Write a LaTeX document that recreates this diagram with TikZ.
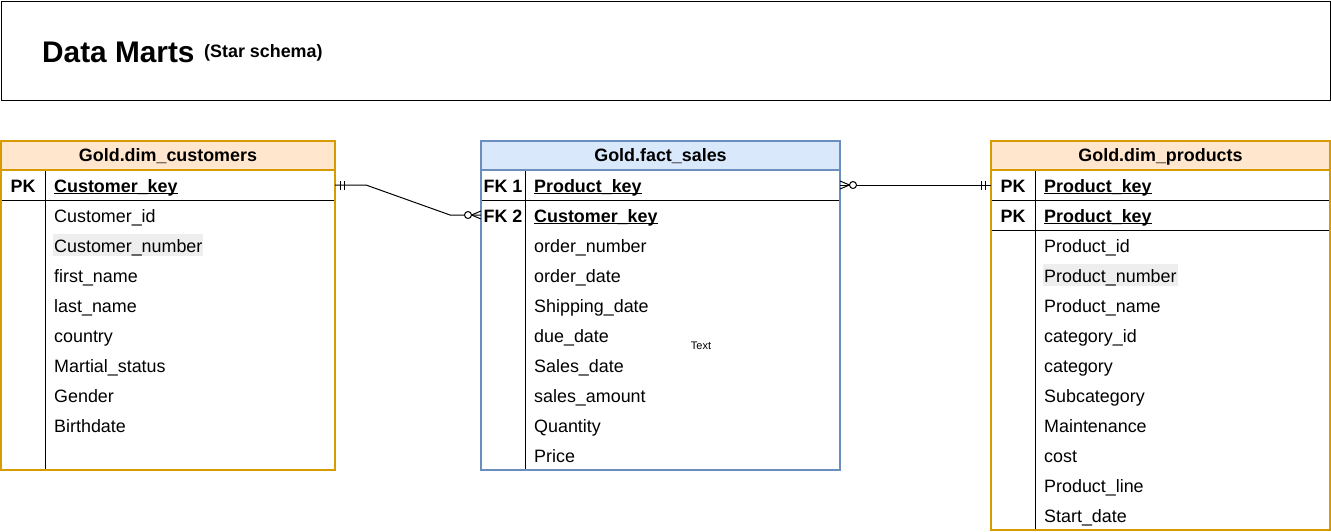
\documentclass[tikz,border=0pt]{standalone}
\usepackage{fontspec}
\setmainfont{Liberation Sans}
\definecolor{orS}{HTML}{D79B00}
\definecolor{orF}{HTML}{FFE6CC}
\definecolor{blS}{HTML}{6C8EBF}
\definecolor{blF}{HTML}{DAE8FC}
\definecolor{hlc}{HTML}{EEEEEE}
\newcommand\keyu[1]{\setbox0\hbox{#1}\rlap{\rule[-2.4pt]{\wd0}{1.3pt}}\box0}
\tikzset{
  fnt/.style={font=\fontsize{17.9}{20}\selectfont},
  bfnt/.style={font=\bfseries\fontsize{17.9}{20}\selectfont},
  hdr/.style={bfnt, anchor=center, inner sep=0pt},
  fld/.style={fnt, anchor=base west, inner sep=0pt},
  keylbl/.style={bfnt, anchor=base, inner sep=0pt},
  keyfld/.style={bfnt, anchor=base west, inner sep=0pt},
  hlfld/.style={fnt, anchor=base west, inner xsep=1pt, inner ysep=0pt, fill=hlc, text height=18.5pt, text depth=4pt},
  rowbox/.style={anchor=north west, inner sep=0pt, outer sep=0pt, minimum height=30pt},
  tblO/.style={draw=orS, line width=1.1pt},
  tblB/.style={draw=blS, line width=1.1pt},
  sepl/.style={draw=black, line width=1pt},
  conn/.style={draw=black, line width=1pt},
}
\begin{document}
\begin{tikzpicture}[x=1pt,y=-1pt]
\useasboundingbox (0,0) rectangle (1331,531);
% title
\node[draw=black, line width=1pt, anchor=north west, inner sep=0pt, minimum width=1329pt, minimum height=99pt] (title) at (1,1) {};
\node[anchor=base west, inner sep=0pt, font=\bfseries\fontsize{29.8}{32}\selectfont] (ttl) at (42,62) {Data Marts};
\node[anchor=base west, inner sep=0pt, bfnt] (sub) at (204,57) {(Star schema)};

% ---------- customers ----------
\fill[orF] (1,141) rectangle (335,170);
\draw[sepl] (1,200) -- (335,200);
\draw[sepl] (45,170) -- (45,470);
\draw[tblO] (1,141) rectangle (335,470);
\draw[orS, line width=1.1pt] (1,170) -- (335,170);
\node[hdr] (cust) at (168,156.5) {Gold.dim\_customers};
\node[rowbox, minimum width=334pt] (cpk) at (1,170) {};
\node[keylbl] (cpkl) at (23,192) {PK};
\node[keyfld] (cpkf) at (54,192) {\keyu{Customer\_key}};
\foreach \i/\t in {1/Customer\_id, 3/first\_name, 4/last\_name, 5/country, 6/Martial\_status, 7/Gender, 8/Birthdate}
  \node[fld] (cf\i) at (54,192+30*\i) {\t};
\node[hlfld] (cf2) at (53,252) {Customer\_number};

% ---------- fact sales ----------
\fill[blF] (481,141) rectangle (840,170);
\draw[sepl] (481,200) -- (840,200);
\draw[sepl] (525,170) -- (525,470);
\draw[tblB] (481,141) rectangle (840,470);
\draw[blS, line width=1.1pt] (481,170) -- (840,170);
\node[hdr] (fact) at (660.5,156.5) {Gold.fact\_sales};
\node[rowbox, minimum width=359pt] (ffk1) at (481,170) {};
\node[rowbox, minimum width=359pt] (ffk2) at (481,200) {};
\node[keylbl] (ffk1l) at (503,192) {FK 1};
\node[keyfld] (ffk1f) at (534,192) {\keyu{Product\_key}};
\node[keylbl] (ffk2l) at (503,222) {FK 2};
\node[keyfld] (ffk2f) at (534,222) {\keyu{Customer\_key}};
\foreach \i/\t in {3/order\_number, 4/order\_date, 5/Shipping\_date, 6/due\_date, 7/Sales\_date, 8/sales\_amount, 9/Quantity, 10/Price}
  \node[fld] (ff\i) at (534,162+30*\i) {\t};
\node[font=\fontsize{11}{13}\selectfont, inner sep=0pt] (txt) at (701,345.5) {Text};

% ---------- products ----------
\fill[orF] (991,141) rectangle (1330,170);
\draw[sepl] (991,200) -- (1330,200);
\draw[sepl] (991,230) -- (1330,230);
\draw[sepl] (1035,170) -- (1035,530);
\draw[tblO] (991,141) rectangle (1330,530);
\draw[orS, line width=1.1pt] (991,170) -- (1330,170);
\node[hdr] (prod) at (1160.5,156.5) {Gold.dim\_products};
\node[rowbox, minimum width=339pt] (ppk1) at (991,170) {};
\node[keylbl] (ppk1l) at (1013,192) {PK};
\node[keyfld] (ppk1f) at (1044,192) {\keyu{Product\_key}};
\node[keylbl] (ppk2l) at (1013,222) {PK};
\node[keyfld] (ppk2f) at (1044,222) {\keyu{Product\_key}};
\foreach \i/\t in {3/Product\_id, 5/Product\_name, 6/category\_id, 7/category, 8/Subcategory, 9/Maintenance, 10/cost, 11/Product\_line, 12/Start\_date}
  \node[fld] (pf\i) at (1044,162+30*\i) {\t};
\node[hlfld] (pf4) at (1043,282) {Product\_number};

% ---------- connectors ----------
\draw[conn] (cpk.east) -- ++(31,0) -- ([xshift=-31pt]ffk2.west) -- (ffk2.west);
% mandatory one at customers
\draw[conn] ([xshift=5pt,yshift=-4.5pt]cpk.east) -- ([xshift=5pt,yshift=4.5pt]cpk.east);
\draw[conn] ([xshift=9pt,yshift=-4.5pt]cpk.east) -- ([xshift=9pt,yshift=4.5pt]cpk.east);
% zero to many at fact FK2
\draw[conn] ([xshift=-9.5pt]ffk2.west) -- ([yshift=4pt]ffk2.west);
\draw[conn] ([xshift=-9.5pt]ffk2.west) -- ([yshift=-4pt]ffk2.west);
\draw[conn, fill=white] ([xshift=-13pt]ffk2.west) circle[radius=3.5pt];

\draw[conn] (ffk1.east) -- (ppk1.west);
% zero to many at fact FK1
\draw[conn] ([xshift=9.5pt]ffk1.east) -- ([yshift=4pt]ffk1.east);
\draw[conn] ([xshift=9.5pt]ffk1.east) -- ([yshift=-4pt]ffk1.east);
\draw[conn, fill=white] ([xshift=13pt]ffk1.east) circle[radius=3.5pt];
% mandatory one at products
\draw[conn] ([xshift=-6pt,yshift=-4.5pt]ppk1.west) -- ([xshift=-6pt,yshift=4.5pt]ppk1.west);
\draw[conn] ([xshift=-10pt,yshift=-4.5pt]ppk1.west) -- ([xshift=-10pt,yshift=4.5pt]ppk1.west);
\end{tikzpicture}
\end{document}
